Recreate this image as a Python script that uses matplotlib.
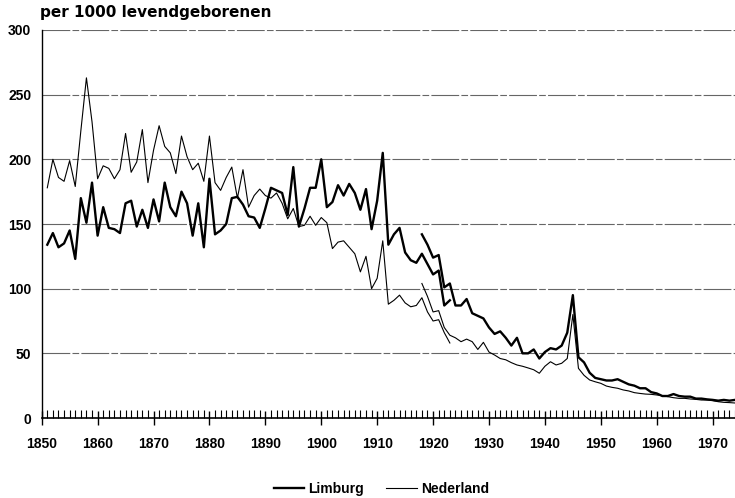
import matplotlib
matplotlib.use("Agg")
import matplotlib.pyplot as plt
from matplotlib.ticker import MultipleLocator, FixedLocator

# ---- data (per 1000 live births) ----
limburg_old_years = list(range(1851, 1924))
limburg_old = [134, 143, 132, 135, 145, 123, 170, 151, 182, 141,
               163, 147, 146, 143, 166, 168, 148, 161, 147, 169,
               152, 182, 163, 156, 175, 166, 141, 166, 132, 185,
               142, 145, 150, 170, 171, 165, 156, 155, 147, 162,
               178, 176, 174, 157, 194, 148, 162, 178, 178, 200,
               163, 167, 180, 172, 181, 174, 161, 177, 146, 168,
               205, 134, 142, 147, 128, 122, 120, 127, 119, 111,
               114, 87, 91]

limburg_new_years = list(range(1918, 1975))
limburg_new = [142, 134, 124, 126, 101, 104, 87, 87, 92, 81,
               79, 77, 70, 65, 67, 62, 56, 62, 50, 50,
               53, 46, 51, 54, 53, 56, 66, 95, 47, 43,
               35, 31, 30, 29, 29, 30, 28, 26, 25, 23,
               23, 20, 19, 17, 17, 18.5, 17, 16.5, 16.5, 15,
               15, 14.4, 14, 13.4, 14, 13.4, 14]

nederland_old_years = list(range(1851, 1924))
nederland_old = [178, 200, 186, 183, 199, 179, 222, 263, 229, 185,
                 195, 193, 185, 192, 220, 190, 198, 223, 182, 207,
                 226, 210, 205, 189, 218, 202, 192, 197, 183, 218,
                 182, 176, 186, 194, 170, 192, 163, 172, 177, 172,
                 170, 174, 166, 154, 162, 148, 149, 156, 149, 155,
                 151, 131, 136, 137, 132, 127, 113, 125, 100, 108,
                 137, 88, 91, 95, 89, 86, 87, 93, 82, 75,
                 76, 66, 58]

nederland_new_years = list(range(1918, 1975))
nederland_new = [104, 94, 82, 83, 70, 64, 62, 59, 61, 59,
                 53, 58.5, 51, 48.7, 46, 45, 42.8, 41, 40, 38.7,
                 37.3, 34.6, 40, 43.5, 41, 42.3, 46, 80, 38.4, 33,
                 29.4, 28, 26.8, 24.7, 23.7, 23, 21.7, 20.9, 19.6, 19,
                 18.5, 18.3, 17.8, 17.3, 16.5, 15.7, 15.2, 15.2, 14.7, 14.4,
                 13.9, 13.9, 13.4, 12.6, 12.1, 11.9, 11.6]

x_ticks = [1850, 1860, 1870, 1880, 1890, 1900, 1910, 1920, 1930, 1940, 1950, 1960, 1970]
y_ticks = [0, 50, 100, 150, 200, 250, 300]
title = "per 1000 levendgeborenen"
series_names = ["Limburg", "Nederland"]

# ---- figure ----
plt.rcParams['font.family'] = ['Liberation Sans', 'DejaVu Sans']
plt.rcParams['font.weight'] = 'bold'

fig = plt.figure(figsize=(7.35, 4.98), dpi=100)
ax = fig.add_axes([41.7 / 735, 1 - 418 / 498, 1 - 41.7 / 735, (418 - 30) / 498])

ax.set_xlim(1850, 1974)
ax.set_ylim(0, 300)

for y in y_ticks[1:]:
    ax.axhline(y, color='#666666', linewidth=0.8, linestyle=(0, (25, 2, 6, 2)), zorder=1)

thick = dict(color='black', linewidth=1.7, zorder=3)
thin = dict(color='black', linewidth=0.8, zorder=3)
l1, = ax.plot(limburg_old_years, limburg_old, **thick)
ax.plot(limburg_new_years, limburg_new, **thick)
l2, = ax.plot(nederland_old_years, nederland_old, **thin)
ax.plot(nederland_new_years, nederland_new, **thin)

for s in ['top', 'right']:
    ax.spines[s].set_visible(False)
ax.spines['left'].set_linewidth(1.0)
ax.spines['bottom'].set_linewidth(1.2)

ax.xaxis.set_major_locator(FixedLocator(x_ticks))
ax.xaxis.set_minor_locator(MultipleLocator(1))
ax.set_xticklabels([str(t) for t in x_ticks])
ax.tick_params(axis='x', which='major', direction='inout', length=9.5, width=1.0,
               pad=9, labelsize=10)
ax.tick_params(axis='x', which='minor', direction='in', length=5.5, width=0.8)
ax.yaxis.set_major_locator(FixedLocator(y_ticks))
ax.tick_params(axis='y', which='both', length=0, pad=7.5, labelsize=10)
for lab in ax.get_xticklabels() + ax.get_yticklabels():
    lab.set_fontweight('bold')

fig.text(40 / 735, 1 - 13 / 498, title, fontsize=11, fontweight='bold',
         family='DejaVu Sans', ha='left', va='center')

fig.legend([l1, l2], series_names, loc='center', ncol=2, frameon=False,
           bbox_to_anchor=(0.519, 0.018), bbox_transform=fig.transFigure,
           handlelength=2.2, handletextpad=0.3, columnspacing=1.6,
           prop={'weight': 'bold', 'size': 10})

fig.savefig("out.png", dpi=100)
